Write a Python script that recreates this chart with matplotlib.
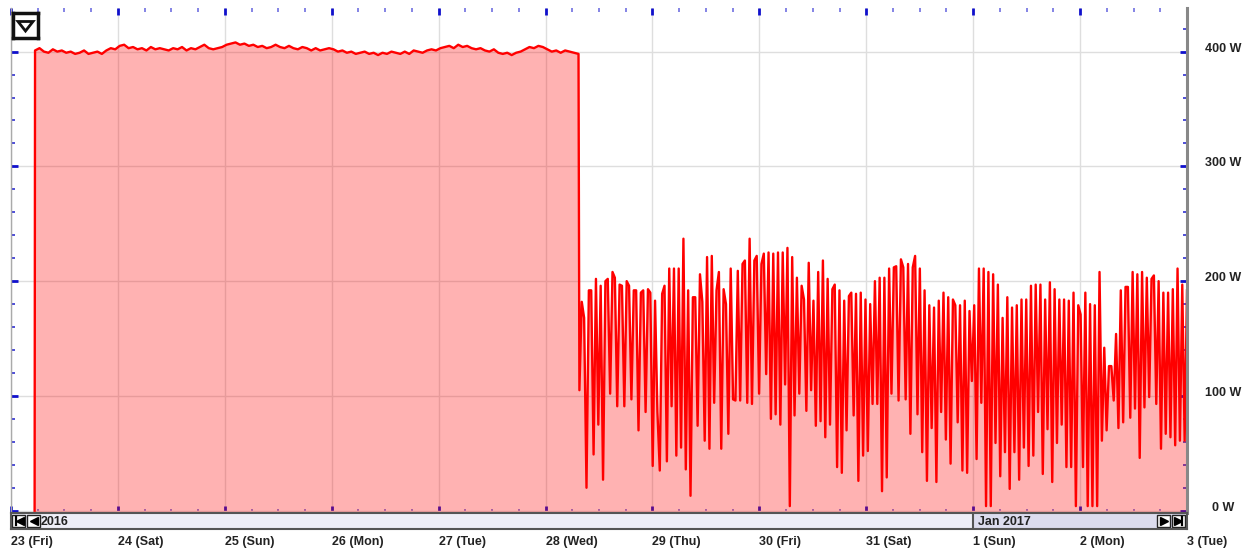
import matplotlib.pyplot as plt
import numpy as np
from matplotlib.ticker import MultipleLocator
from matplotlib.patches import Rectangle, Polygon
from matplotlib.transforms import offset_copy

plt.rcParams['font.family'] = ['Liberation Sans', 'DejaVu Sans']

# x axis: hours since 23 Dec 2016 00:00
day_labels = ["23 (Fri)", "24 (Sat)", "25 (Sun)", "26 (Mon)", "27 (Tue)", "28 (Wed)",
              "29 (Thu)", "30 (Fri)", "31 (Sat)", "1 (Sun)", "2 (Mon)", "3 (Tue)"]
y_ticks = [0, 100, 200, 300, 400]
y_labels = ["0 W", "100 W", "200 W", "300 W", "400 W"]
year_labels = ["2016", "Jan 2017"]

# steady load, hourly readings from 23 Dec 05:24 to 28 Dec 07:24
steady_start = 5.4
steady_watts = [
    401, 403, 400, 399, 402, 400, 401, 399, 400, 398, 399, 401, 398, 399, 400, 398, 401, 403, 402,
    405, 406, 403, 404, 402, 403, 401, 404, 402, 403, 402, 401, 403, 402, 404, 401, 403, 402, 404, 406, 403, 402, 403, 404,
    406, 407, 408, 406, 407, 405, 406, 404, 405, 403, 404, 406, 404, 403, 405, 403, 402, 404, 403, 401, 403, 401, 402, 403,
    402, 400, 401, 399, 400, 398, 399, 400, 398, 399, 397, 399, 398, 400, 399, 398, 400, 398, 401, 400, 399, 401, 402, 401,
    403, 404, 405, 403, 406, 404, 405, 403, 402, 403, 401, 400, 402, 399, 398, 399, 397, 399, 400, 402, 404, 403, 405, 404,
    402, 400, 401, 399, 401, 400, 399, 398,
]

# cycling load after the drop, 28 Dec 07:36 to 3 Jan 00:00
cycle_start, cycle_end = 127.6, 264.0
cycle_watts = [
    105, 182, 168, 20, 192, 192, 49, 202, 75, 196, 27, 200, 202, 102, 208, 203, 91, 197, 196, 91,
    200, 196, 97, 192, 192, 70, 190, 192, 86, 193, 190, 39, 183, 86, 35, 189, 196, 43, 211, 91,
    211, 48, 211, 55, 237, 36, 192, 13, 186, 186, 74, 206, 182, 61, 221, 54,
    222, 94, 192, 208, 54, 193, 180, 67, 211, 97, 96, 209, 96, 215, 218, 94, 237, 93, 218, 222,
    102, 215, 224, 119, 225, 80, 224, 84, 225, 75, 225, 110, 229, 4, 221, 83, 203, 102, 196, 184,
    87, 216, 105, 183, 74, 208, 78, 218, 64, 202,
    75, 193, 197, 38, 192, 33, 183, 70, 187, 190, 83, 189, 26, 190, 48, 184, 52, 180, 93, 200,
    93, 203, 17, 203, 29, 211, 102, 212, 213, 96, 219, 212, 97, 215, 67, 212, 222, 84, 211, 51,
    192, 26, 179, 72, 177, 25, 183, 86, 190, 62, 186, 41, 184,
    179, 77, 179, 35, 183, 33, 174, 113, 179, 45, 211, 94, 211, 4, 208, 4, 206, 59, 197, 30,
    168, 51, 186, 19, 177, 51, 179, 27, 184, 55, 184, 39, 196, 48, 197, 86, 197, 32, 184, 71,
    199, 25, 193, 59, 184, 75, 184, 38, 183, 38, 190, 4, 179,
    171, 38, 190, 4, 180, 4, 179, 4, 208, 61, 142, 70, 126, 126, 96, 154, 72, 192, 77, 195,
    195, 81, 208, 89, 206, 46, 208, 90, 203, 99, 202, 205, 93, 200, 54, 190, 67, 190, 64, 193,
    57, 211, 61, 197, 61, 192,
]

t = np.concatenate([[steady_start - 0.1],
                    steady_start + np.arange(len(steady_watts)),
                    np.linspace(cycle_start, cycle_end, len(cycle_watts))])
w = np.concatenate([[0], steady_watts, cycle_watts])

W, H = 1250, 550
fig = plt.figure(figsize=(W / 100, H / 100), dpi=100)
ax = fig.add_axes([11 / W, 1 - 513 / H, 1176 / W, 505 / H])

ax.fill_between(t, w, -10, color='red', alpha=0.3, linewidth=0)
ax.plot(t, w, color='red', linewidth=1.7)

ax.set_xlim(0, 264)
ax.set_ylim(-2, 438)
ax.set_axisbelow(True)
ax.grid(which='major', color='#dedede', linewidth=1)

ax.xaxis.set_major_locator(MultipleLocator(24))
ax.xaxis.set_minor_locator(MultipleLocator(6))
ax.set_yticks(y_ticks)
ax.set_yticklabels(y_labels)
ax.yaxis.set_minor_locator(MultipleLocator(20))

ax.tick_params(axis='x', which='both', direction='in', top=True, bottom=True, labelbottom=False)
ax.tick_params(axis='x', which='major', length=5, width=2, color='#1010cc')
ax.tick_params(axis='x', which='minor', length=3, width=1.2, color='#7070e0')
ax.tick_params(axis='y', which='both', direction='in', left=True, right=True,
               labelleft=False, labelright=True)
ax.tick_params(axis='y', which='major', length=5, width=2, color='#1010cc',
               pad=26, labelsize=9, labelcolor='#222222')
ax.tick_params(axis='y', which='minor', length=3, width=1.2, color='#3030d0')
for lab in ax.get_yticklabels():
    lab.set_horizontalalignment('center')
    lab.set_verticalalignment('center')
    lab.set_fontweight('bold')
    lab.set_transform(offset_copy(lab.get_transform(), fig=fig, x=0, y=3, units='dots'))

for s in ['top', 'bottom']:
    ax.spines[s].set_visible(False)
ax.spines['left'].set_color('#aaaaaa')
ax.spines['left'].set_linewidth(1)
ax.spines['right'].set_color('#888888')
ax.spines['right'].set_linewidth(2.2)

# navigation strip under the plot
nav = fig.add_axes([11 / W, 1 - 529 / H, 1176 / W, 16 / H])
nav.set_xlim(0, 264)
nav.set_ylim(0, 1)
px = 264 / 1176
nav.axvspan(0, 216, color='#eeeef7')
nav.axvspan(216, 264, color='#dcdcee')
nav.axvline(216, color='#555555', linewidth=1.5)
for s in nav.spines.values():
    s.set_color('#555555')
    s.set_linewidth(1.5)
nav.set_yticks([])
nav.set_xticks(np.arange(0, 265, 24))
nav.set_xticklabels(day_labels, ha='left', fontsize=9, fontweight='bold', color='#222222')
nav.tick_params(axis='x', length=0, pad=5)

nav.text(30 * px, 0.45, year_labels[0], fontsize=9, fontweight='bold', color='#222222', va='center')
nav.text(216 + 5 * px, 0.45, year_labels[1], fontsize=9, fontweight='bold', color='#222222', va='center')

buttons = [(1, '|<'), (16, '<'), (1146, '>'), (1161, '>|')]
for x0, kind in buttons:
    nav.add_patch(Rectangle((x0 * px, 0.1), 13 * px, 0.8, facecolor='white',
                            edgecolor='#222222', linewidth=1))
    cx = (x0 + 6.5) * px
    if kind == '|<':
        nav.plot([cx - 3 * px] * 2, [0.25, 0.75], color='black', linewidth=1.6)
        nav.plot(cx + 1 * px, 0.5, marker='<', color='black', markersize=6)
    elif kind == '<':
        nav.plot(cx, 0.5, marker='<', color='black', markersize=6)
    elif kind == '>':
        nav.plot(cx, 0.5, marker='>', color='black', markersize=6)
    else:
        nav.plot(cx - 1 * px, 0.5, marker='>', color='black', markersize=6)
        nav.plot([cx + 3 * px] * 2, [0.25, 0.75], color='black', linewidth=1.6)

# menu button in the top-left corner
btn = fig.add_axes([13 / W, 1 - 38 / H, 25 / W, 25 / H])
btn.set_xticks([])
btn.set_yticks([])
for s in btn.spines.values():
    s.set_color('#111111')
    s.set_linewidth(2.5)
btn.add_patch(Polygon([(0.2, 0.66), (0.8, 0.66), (0.5, 0.28)], closed=True,
                      fill=False, edgecolor='#111111', linewidth=2))
btn.set_xlim(0, 1)
btn.set_ylim(0, 1)

fig.savefig('out.png', dpi=100)
